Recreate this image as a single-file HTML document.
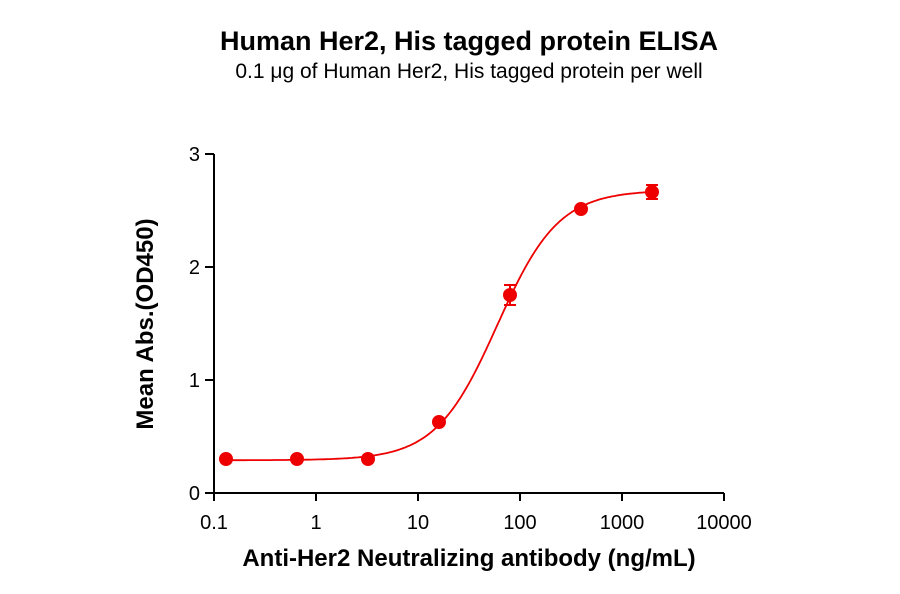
<!DOCTYPE html>
<html><head><meta charset="utf-8"><style>
body{margin:0;background:#fff;width:900px;height:594px;overflow:hidden}
svg{display:block;font-family:"Liberation Sans",sans-serif}
</style></head><body>
<svg id="s" width="900" height="594" viewBox="0 0 900 594">
<text x="469" y="50" text-anchor="middle" font-size="27" font-weight="bold">Human Her2, His tagged protein ELISA</text>
<text x="469" y="78" text-anchor="middle" font-size="21">0.1 μg of Human Her2, His tagged protein per well</text>
<g stroke="#000" stroke-width="2" fill="none">
<path d="M214 154V493H724"/>
<path d="M205 154H214M205 267H214M205 380H214M205 493H214"/>
<path d="M214 493V501M316 493V501M418 493V501M520 493V501M622 493V501M724 493V501"/>
</g>
<g font-size="20" text-anchor="end">
<text x="200" y="161">3</text><text x="200" y="274">2</text><text x="200" y="387">1</text><text x="200" y="500">0</text>
</g>
<g font-size="20" text-anchor="middle">
<text x="214" y="529">0.1</text><text x="316" y="529">1</text><text x="418" y="529">10</text><text x="520" y="529">100</text><text x="622" y="529">1000</text><text x="724" y="529">10000</text>
</g>
<text x="469" y="566" text-anchor="middle" font-size="24" font-weight="bold">Anti-Her2 Neutralizing antibody (ng/mL)</text>
<text transform="translate(153 324) rotate(-90)" text-anchor="middle" font-size="24" font-weight="bold">Mean Abs.(OD450)</text>
<path id="c" fill="none" stroke="#e00" stroke-width="1.8"/>
<g fill="#e00" stroke="#e00" stroke-width="2">
<circle cx="226" cy="459" r="6"/><circle cx="297" cy="459" r="6"/><circle cx="368" cy="459" r="6"/>
<circle cx="439" cy="422" r="6"/><circle cx="510" cy="295" r="6"/><circle cx="581" cy="209" r="6"/><circle cx="652" cy="192" r="6"/>
<path d="M504 285H516M510 285V305M504 305H516M646 185H658M652 185V199M646 199H658" fill="none"/>
</g>
<script>
var d="";for(var x=226;x<=652;x+=2){var c=Math.pow(10,(x-214)/102.5-1);var y=0.29+(2.39)/(1+Math.pow(58/c,1.45));d+=(x==226?"M":"L")+x+" "+(493-113*y).toFixed(1);}
document.getElementById("c").setAttribute("d",d);
</script>
</svg>
</body></html>
